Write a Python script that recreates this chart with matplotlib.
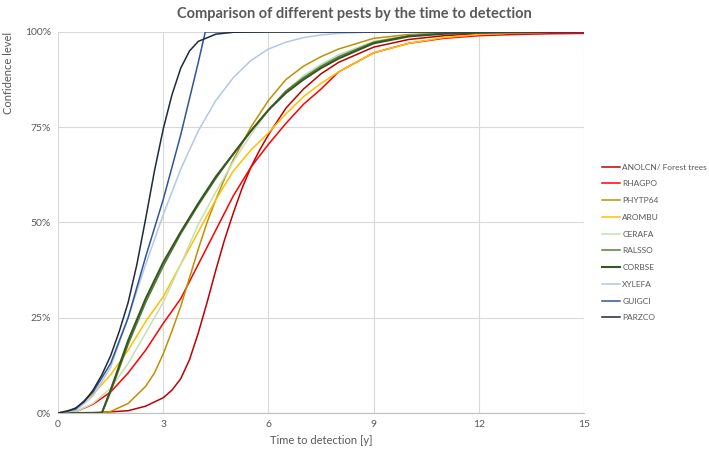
import matplotlib.pyplot as plt
from matplotlib.ticker import FuncFormatter

plt.rcParams['font.family'] = ['Lato', 'DejaVu Sans']

# time to detection (years) and confidence level (%)
x_std = [0, 0.5, 1, 1.5, 2, 2.5, 3, 3.5, 4, 4.5, 5, 5.5, 6, 6.5, 7, 7.5, 8, 9, 10, 11, 12, 13, 14, 15]

x_anol = [0, 1, 1.5, 2, 2.5, 3, 3.25, 3.5, 3.75, 4, 4.25, 4.5, 4.75, 5, 5.25, 5.5, 5.75, 6, 6.5, 7, 7.5, 8, 9, 10, 11, 12, 13, 14, 15]
anolcn = [0, 0.1, 0.3, 0.6, 1.8, 4, 6, 9, 14, 21, 29, 37.5, 45.5, 52.5, 59, 64.5, 69, 73, 80, 85, 89, 92, 96, 98, 99, 99.5, 99.7, 99.8, 99.9]
rhagpo = [0, 0.3, 2.3, 5.5, 10.5, 16.5, 23.5, 30, 39, 48, 57, 64.5, 70.5, 76, 81, 85, 89.5, 94.5, 97, 98.3, 99, 99.3, 99.5, 99.6]
x_phytp = [0, 1.2, 1.5, 2, 2.5, 2.75, 3, 3.25, 3.5, 3.75, 4, 4.25, 4.5, 4.75, 5, 5.5, 6, 6.5, 7, 7.5, 8, 9, 10, 11, 12, 13, 14, 15]
phytp64 = [0, 0, 0.4, 2.5, 7, 10.5, 15.5, 21.5, 28, 35.5, 43, 50, 56, 61.5, 66.5, 75, 82, 87.5, 91, 93.5, 95.5, 98.3, 99.3, 99.7, 99.9, 100, 100, 100]
arombu = [0, 1.2, 5, 10, 16.5, 24, 30.5, 39, 47.5, 56, 63.5, 69, 73.5, 78.5, 83, 86.5, 89.5, 94.5, 97, 98.5, 99.3, 99.7, 99.9, 100]
cerafa = [0, 0.3, 2.5, 6.5, 13, 21, 29, 39, 49.5, 58, 66, 73, 79.5, 84.5, 88.5, 91.5, 94, 97.5, 99, 99.6, 99.8, 99.9, 100, 100]
x_corb = [0, 1.25, 1.5, 2, 2.5, 3, 3.5, 4, 4.5, 5, 5.5, 6, 6.5, 7, 7.5, 8, 9, 10, 11, 12, 13, 14, 15]
ralsso = [0, 0, 5.5, 18, 29, 38.5, 47, 54.5, 61.5, 68, 74, 79.5, 84.5, 88, 91, 93.5, 97.3, 99, 99.6, 99.8, 99.9, 100, 100]
corbse = [0, 0, 6, 19, 30, 39.5, 47.5, 55, 62, 68, 74, 79.5, 84, 87.5, 90.5, 93, 97, 98.8, 99.5, 99.8, 99.9, 100, 100]
x_xyl = [0, 0.5, 1, 1.5, 2, 2.5, 3, 3.5, 4, 4.5, 5, 5.5, 6, 6.5, 7, 7.5, 8, 9, 15]
xylefa = [0, 0.6, 4.5, 12, 25, 39, 52, 64, 74, 82, 88, 92.5, 95.5, 97.3, 98.5, 99.2, 99.6, 100, 100]
x_guig = [0, 0.5, 1, 1.5, 2, 2.5, 3, 3.5, 4, 4.2, 5, 15]
guigci = [0, 1, 5.5, 13, 25, 41, 56, 73, 92, 100, 100, 100]
x_parz = [0, 0.25, 0.5, 0.75, 1, 1.25, 1.5, 1.75, 2, 2.25, 2.5, 2.75, 3, 3.25, 3.5, 3.75, 4, 4.5, 5, 6, 15]
parzco = [0, 0.4, 1.3, 3, 6, 10, 15, 21.5, 29, 39, 51, 63.5, 74.5, 83.5, 90.5, 95, 97.5, 99.4, 99.9, 100, 100]

series = [
    ("ANOLCN/ Forest trees", x_anol, anolcn, "#C00000", 1.1),
    ("RHAGPO", x_std, rhagpo, "#FF0000", 1.1),
    ("PHYTP64", x_phytp, phytp64, "#BF9000", 1.1),
    ("AROMBU", x_std, arombu, "#FFC000", 1.1),
    ("CERAFA", x_std, cerafa, "#C5E0B4", 1.1),
    ("RALSSO", x_corb, ralsso, "#548235", 1.1),
    ("CORBSE", x_corb, corbse, "#375623", 1.5),
    ("XYLEFA", x_xyl, xylefa, "#B4C7E7", 1.1),
    ("GUIGCI", x_guig, guigci, "#2F5597", 1.1),
    ("PARZCO", x_parz, parzco, "#1F2A3A", 1.1),
]

fig = plt.figure(figsize=(7.09, 4.54), dpi=100)
ax = fig.add_axes([0.0818, 0.0903, 0.742, 0.8395])

for name, xs, ys, col, lw in series:
    ax.plot(xs, [v / 100 for v in ys], color=col, lw=lw, label=name,
            solid_joinstyle="round")

ax.set_xlim(0, 15)
ax.set_ylim(0, 1)
ax.set_xticks([0, 3, 6, 9, 12, 15])
ax.set_yticks([0, 0.25, 0.5, 0.75, 1])
ax.yaxis.set_major_formatter(FuncFormatter(lambda v, p: f"{v:.0%}"))
ax.grid(True, color="#D9D9D9", lw=0.8)
ax.set_axisbelow(True)
for s in ["top", "right", "left"]:
    ax.spines[s].set_visible(False)
ax.spines["bottom"].set_color("#BFBFBF")
ax.tick_params(length=0, colors="#595959", labelsize=7.5, pad=5)

ax.set_xlabel("Time to detection [y]", color="#595959", fontsize=8)
fig.text(0.004, 0.93, "Confidence level", rotation=90, va="top", ha="left",
         color="#595959", fontsize=8)
fig.suptitle("Comparison of different pests by the time to detection",
             x=0.5, y=0.985, fontsize=10.5, fontweight="bold", color="#595959")

fig.legend(loc="center left", bbox_to_anchor=(0.849, 0.466), frameon=False,
           fontsize=6, labelspacing=1.17, handlelength=2.2, handletextpad=0.25,
           borderaxespad=0, borderpad=0, labelcolor="#595959")

plt.savefig("out.png", dpi=100)
